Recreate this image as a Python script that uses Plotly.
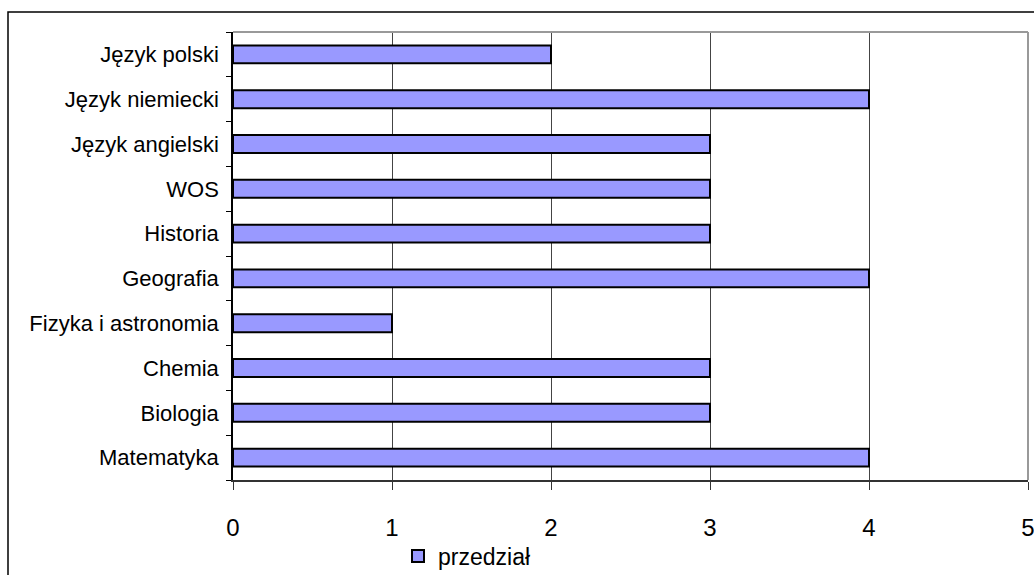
import plotly.graph_objects as go

subjects = ["Matematyka", "Biologia", "Chemia", "Fizyka i astronomia", "Geografia",
            "Historia", "WOS", "Język angielski", "Język niemiecki", "Język polski"]
values = [4, 3, 3, 1, 4, 3, 3, 3, 4, 2]
x_ticks = [0, 1, 2, 3, 4, 5]

# figure a bit taller than the window so the legend has room; the page hides the overflow
W, H = 1034, 600
L, R, T, B = 233, 1028, 32, 480

fig = go.Figure()
fig.add_trace(go.Bar(
    x=values, y=subjects, orientation="h", name="przedział",
    marker=dict(color="#9999FF", line=dict(color="black", width=2)),
))

def px_x(p):
    return (p - L) / (R - L)

def px_y(p):
    return (B - p) / (B - T)

# outer chart frame and gray plot border (top/right)
fig.add_shape(type="rect", xref="paper", yref="paper",
              x0=px_x(8), x1=px_x(1040), y0=px_y(590), y1=px_y(12),
              line=dict(color="black", width=1.5), layer="below")
fig.add_shape(type="line", xref="paper", yref="paper", x0=0, x1=1, y0=1, y1=1,
              line=dict(color="#999999", width=2))
fig.add_shape(type="line", xref="paper", yref="paper", x0=1, x1=1, y0=0, y1=1,
              line=dict(color="#999999", width=2))

fig.update_layout(
    width=W, height=H,
    margin=dict(l=L, r=W - R, t=T, b=H - B),
    plot_bgcolor="white", paper_bgcolor="white",
    font=dict(family="Liberation Sans, Arial", color="black"),
    bargap=0.6,
    showlegend=True,
    legend=dict(orientation="h", x=px_x(398), y=px_y(556), xanchor="left", yanchor="middle",
                font=dict(size=23), itemwidth=30),
    xaxis=dict(range=[0, 5], tickvals=x_ticks, showgrid=True, gridcolor="#444444", gridwidth=1,
               showline=True, linecolor="#333333", linewidth=2, ticks="outside", ticklen=8,
               tickcolor="#333333", tickfont=dict(size=24), ticklabelstandoff=17, zeroline=False,
               ticklabeloverflow="allow", automargin=False),
    yaxis=dict(categoryorder="array", categoryarray=subjects, showline=True, linecolor="black",
               linewidth=1.5, ticks="outside", ticklen=5, tickson="boundaries", tickcolor="black",
               tickfont=dict(size=22), ticklabelstandoff=8, showgrid=False, automargin=False),
)

# drop the default page margin and scrollbars so the figure sits at the window's corner
fig.write_html("out.html", config={"displayModeBar": False},
               post_script="document.body.style.margin='0';document.body.style.overflow='hidden';")
